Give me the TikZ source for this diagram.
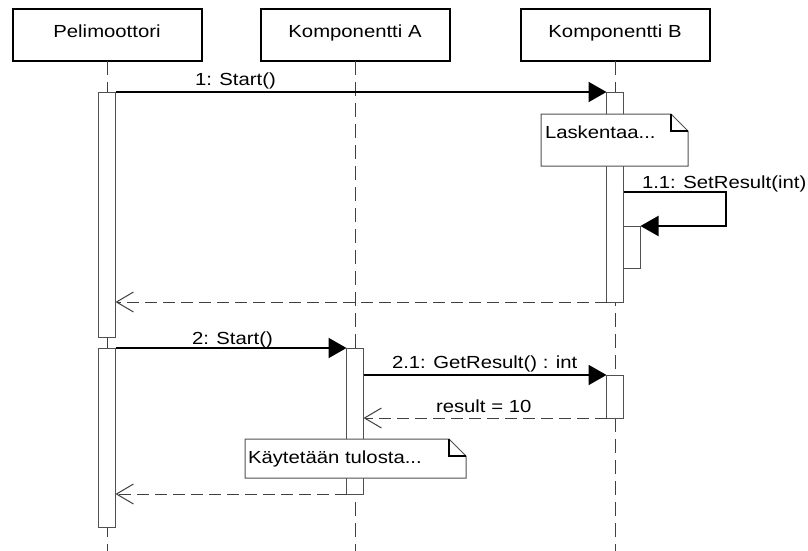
\documentclass[tikz,border=0pt]{standalone}
\usepackage{fontspec}
\setmainfont{Liberation Sans}[FakeStretch=1.16]
\usetikzlibrary{arrows.meta}
\definecolor{lifegray}{HTML}{404040}
\definecolor{bargray}{HTML}{505050}

\begin{document}
\begin{tikzpicture}[x=1pt,y=-1pt,
  every node/.style={font=\fontsize{17.5}{21}\selectfont, inner sep=0pt, outer sep=0pt},
  actor/.style={draw=black, line width=2pt, fill=white, minimum width=189pt,
    minimum height=52pt, text height=12.5pt, text depth=8pt},
  lifeline/.style={draw=lifegray, line width=1pt, dash pattern=on 14pt off 7pt},
  bar/.style={draw=bargray, line width=1pt, fill=white, minimum width=17pt},
  msg/.style={draw=black, line width=2pt, -{Triangle[length=18pt,width=20pt]}},
  ret/.style={draw=lifegray, line width=1pt, dash pattern=on 12pt off 6pt,
    -{Straight Barb[length=17pt,width=20pt,line width=1pt]}},
  lbl/.style={anchor=base west},
  noteedge/.style={draw=bargray, line width=1pt, fill=white},
  notefold/.style={draw=black, line width=2pt}
]
\fill[white] (0,0) rectangle (808,551);
\useasboundingbox (0,0) rectangle (808,551);

% participants
\node[actor] (pel) at (107,35) {Pelimoottori};
\node[actor] (ka)  at (355,35) {Komponentti A};
\node[actor] (kb)  at (615,35) {Komponentti B};

% lifelines
\coordinate (pelEnd) at (107,551);
\coordinate (kaEnd)  at (355,551);
\coordinate (kbEnd)  at (615,551);
\draw[lifeline] (pel.south) -- (pelEnd);
\draw[lifeline] (ka.south)  -- (kaEnd);
\draw[lifeline] (kb.south)  -- (kbEnd);

% activation bars
\node[bar, minimum height=245pt] (pbar1) at (107,214.5) {};
\node[bar, minimum height=179pt] (pbar2) at (107,437.5) {};
\node[bar, minimum height=210pt] (bbar1) at (615,197) {};
\node[bar, minimum height=42pt]  (bnest) at (632,247) {};
\node[bar, minimum height=146pt] (abar)  at (355,421) {};
\node[bar, minimum height=43pt]  (bbar2) at (615,396.5) {};

% notes
\path[noteedge] (541,114) -- (671,114) -- (688,131) -- (688,166) -- (541,166) -- cycle;
\draw[notefold] (671,114) -- (671,131) -- (688,131);
\node[lbl] (note1) at (545,138) {Laskentaa...};

\path[noteedge] (245,439) -- (449,439) -- (466,456) -- (466,478) -- (245,478) -- cycle;
\draw[notefold] (449,439) -- (449,456) -- (466,456);
\node[lbl] (note2) at (248,463) {Käytetään tulosta...};

% messages
\draw[msg] (pbar1.north east) -- (bbar1.north west);
\node[lbl] (m1) at (195,85) {1: Start()};

\coordinate (loopA) at (726,192);
\coordinate (loopB) at (726,226);
\draw[msg] (bbar1.east |- loopA) -- (loopA) -- (loopB) -- (bnest.north east);
\node[lbl] (m11) at (642,188) {1.1: SetResult(int)};

\draw[ret] (bbar1.south west) -- (pbar1.east |- bbar1.south);

\draw[msg] (pbar2.north east) -- (abar.north west);
\node[lbl] (m2) at (192,344) {2: Start()};

\draw[msg] (abar.east |- bbar2.north) -- (bbar2.north west);
\node[lbl] (m21) at (392,368) {2.1: GetResult() : int};

\draw[ret] (bbar2.south west) -- (abar.east |- bbar2.south);
\node[lbl] (r21) at (436,412) {result = 10};

\draw[ret] (abar.south west) -- (pbar2.east |- abar.south);
\end{tikzpicture}
\end{document}
